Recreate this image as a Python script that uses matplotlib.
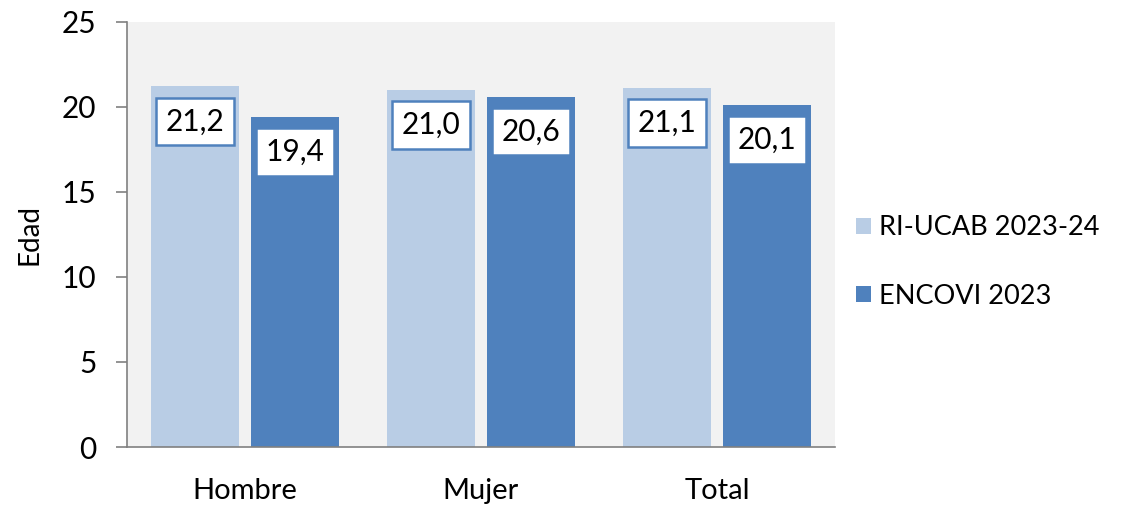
import numpy as np
import matplotlib as mpl
import matplotlib.pyplot as plt
mpl.use('agg')

##--##--  data  --##--##
categories = ['Hombre', 'Mujer', 'Total']
ri_ucab = [21.2, 21.0, 21.1]
encovi = [19.4, 20.6, 20.1]
series_names = ['RI-UCAB 2023-24', 'ENCOVI 2023']

plt.rcParams['font.family'] = ['Lato', 'DejaVu Sans']

light = '#b9cde5'
dark = '#4f81bd'

fig = plt.figure(figsize=(11.40, 5.11), dpi=100)
ax = fig.add_axes([0.1114, 0.1252, 0.621, 0.832])
ax.set_facecolor('#f2f2f2')

x = np.arange(len(categories))
w = 0.375
gap = 0.05
b1 = ax.bar(x - (w + gap) / 2, ri_ucab, w, color=light, label=series_names[0], zorder=2)
b2 = ax.bar(x + (w + gap) / 2, encovi, w, color=dark, label=series_names[1], zorder=2)

for bars, vals in [(b1, ri_ucab), (b2, encovi)]:
    for rect, v in zip(bars, vals):
        cx = rect.get_x() + rect.get_width() / 2
        ax.text(cx, v - 2.05, f'{v:.1f}'.replace('.', ','), ha='center', va='center',
                fontsize=21.5, color='black', zorder=3,
                bbox=dict(boxstyle='square,pad=0.33', facecolor='white', edgecolor=dark, linewidth=1.8))

ax.set_xlim(-0.5, 2.5)
ax.set_ylim(0, 25)
ax.set_yticks(np.arange(0, 26, 5))
ax.set_xticks(x)
ax.set_xticklabels(categories)
ax.tick_params(axis='y', length=8, width=1.2, color='#808080', labelsize=21.5, pad=14)
ax.tick_params(axis='x', length=0, labelsize=21, pad=22)
ax.set_ylabel('Edad', fontsize=20, labelpad=14)

for s in ['top', 'right']:
    ax.spines[s].set_visible(False)
ax.spines['left'].set_color('#808080')
ax.spines['left'].set_linewidth(1.2)
ax.spines['bottom'].set_color('#808080')
ax.spines['bottom'].set_linewidth(1.2)

ax.legend(loc='center left', bbox_to_anchor=(1.015, 0.435), frameon=False, fontsize=19.5,
          handlelength=0.55, handleheight=0.55, handletextpad=0.3, labelspacing=1.6,
          borderaxespad=0)

fig.savefig('out.png', dpi=100)
